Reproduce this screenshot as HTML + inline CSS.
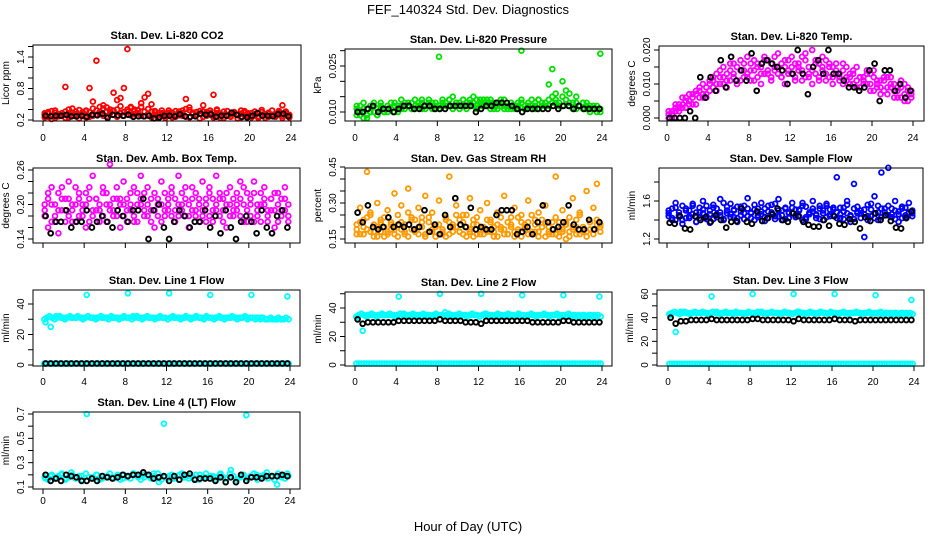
<!DOCTYPE html>
<html><head><meta charset="utf-8"><style>
html,body{margin:0;padding:0;background:#fff;}
svg{display:block;font-family:"Liberation Sans",sans-serif;}
</style></head><body>
<svg id="chart" width="936" height="540" viewBox="0 0 936 540">
<text x="468" y="14" text-anchor="middle" font-size="13">FEF_140324  Std. Dev. Diagnostics</text>
<text x="468" y="531" text-anchor="middle" font-size="13">Hour of Day (UTC)</text>
</svg>
<script>
// ---------- data ----------
const co2Color = [0.30,0.32,0.28,0.34,0.30,0.29,0.83,0.33,0.42,0.31,0.30,0.35,0.38,0.81,0.55,1.33,0.45,0.48,0.36,0.40,0.72,0.58,0.62,0.81,1.55,0.45,0.40,0.38,0.52,0.63,0.70,0.50,0.35,0.33,0.30,0.32,0.31,0.34,0.30,0.36,0.38,0.60,0.44,0.33,0.30,0.32,0.48,0.35,0.30,0.68,0.38,0.32,0.30,0.29,0.31,0.33,0.30,0.32,0.34,0.30,0.28,0.31,0.33,0.30,0.29,0.32,0.30,0.31,0.35,0.48,0.33,0.28];
const co2Color2 = [0.25,0.35,0.22,0.38,0.27,0.33,0.24,0.40,0.29,0.36,0.23,0.31,0.37,0.26,0.42,0.30,0.35,0.28,0.44,0.33,0.38,0.26,0.46,0.35,0.40,0.29,0.37,0.33,0.45,0.27,0.41,0.36,0.30,0.24,0.38,0.28,0.34,0.25,0.37,0.29,0.33,0.26,0.39,0.31,0.35,0.23,0.36,0.28,0.34,0.25,0.40,0.30,0.24,0.37,0.27,0.35,0.23,0.38,0.29,0.33,0.25,0.36,0.27,0.39,0.24,0.34,0.30,0.26,0.37,0.28,0.32,0.25];
const co2Color3 = [0.33,0.26,0.37,0.24,0.31,0.28,0.36,0.25,0.34,0.27,0.39,0.30,0.25,0.35,0.28,0.38,0.31,0.42,0.27,0.36,0.30,0.40,0.33,0.28,0.36,0.43,0.31,0.39,0.28,0.36,0.32,0.25,0.37,0.29,0.33,0.24,0.38,0.30,0.26,0.35,0.28,0.41,0.25,0.34,0.29,0.37,0.26,0.32,0.38,0.28,0.33,0.24,0.36,0.30,0.26,0.34,0.29,0.25,0.37,0.27,0.33,0.29,0.24,0.35,0.31,0.26,0.38,0.28,0.33,0.24,0.36,0.30];
const co2Black = [0.28,0.27,0.28,0.28,0.30,0.27,0.27,0.28,0.26,0.30,0.29,0.32,0.24,0.30,0.29,0.28,0.30,0.26,0.27,0.27,0.28,0.23,0.25,0.28,0.28,0.27,0.31,0.27,0.26,0.27,0.32,0.30,0.31,0.26,0.28,0.28,0.34,0.30,0.26,0.25,0.28,0.33,0.28,0.28,0.27,0.31,0.32,0.27];
const presColor = [0.011,0.009,0.013,0.008,0.010,0.012,0.009,0.011,0.010,0.012,0.011,0.010,0.012,0.011,0.013,0.012,0.011,0.012,0.013,0.011,0.012,0.013,0.012,0.011,0.028,0.012,0.013,0.014,0.012,0.013,0.012,0.014,0.013,0.012,0.013,0.014,0.013,0.012,0.014,0.013,0.012,0.011,0.013,0.012,0.012,0.011,0.012,0.013,0.030,0.011,0.013,0.012,0.011,0.014,0.012,0.013,0.019,0.024,0.014,0.012,0.020,0.017,0.016,0.013,0.015,0.012,0.013,0.011,0.012,0.011,0.012,0.029];
const presColor2 = [0.009,0.012,0.008,0.011,0.010,0.013,0.009,0.012,0.011,0.010,0.013,0.012,0.011,0.014,0.012,0.013,0.011,0.014,0.012,0.013,0.012,0.014,0.011,0.013,0.012,0.014,0.013,0.012,0.015,0.013,0.011,0.014,0.012,0.013,0.015,0.012,0.014,0.013,0.012,0.014,0.011,0.013,0.012,0.014,0.011,0.013,0.012,0.011,0.014,0.012,0.013,0.011,0.012,0.014,0.013,0.012,0.014,0.015,0.013,0.012,0.015,0.014,0.013,0.011,0.013,0.012,0.011,0.013,0.010,0.012,0.011,0.010];
const presColor3 = [0.012,0.010,0.011,0.009,0.012,0.010,0.011,0.013,0.010,0.012,0.011,0.013,0.010,0.012,0.011,0.012,0.013,0.011,0.012,0.014,0.011,0.012,0.013,0.012,0.011,0.013,0.012,0.014,0.011,0.012,0.013,0.012,0.011,0.014,0.012,0.011,0.012,0.014,0.013,0.011,0.013,0.012,0.014,0.011,0.012,0.013,0.011,0.012,0.013,0.011,0.012,0.014,0.013,0.011,0.012,0.013,0.012,0.013,0.016,0.013,0.012,0.014,0.012,0.013,0.011,0.012,0.013,0.012,0.011,0.012,0.010,0.011];
const presBlack = [0.010,0.010,0.011,0.012,0.010,0.011,0.011,0.010,0.011,0.012,0.012,0.011,0.011,0.012,0.012,0.011,0.011,0.011,0.012,0.012,0.012,0.012,0.012,0.010,0.011,0.012,0.012,0.013,0.013,0.013,0.012,0.011,0.010,0.011,0.011,0.011,0.011,0.011,0.012,0.011,0.012,0.012,0.011,0.012,0.011,0.011,0.011,0.011];
const tempColor = [0.001,0.002,0.003,0.003,0.004,0.005,0.004,0.006,0.007,0.008,0.006,0.009,0.010,0.011,0.008,0.012,0.010,0.013,0.014,0.012,0.015,0.011,0.016,0.013,0.014,0.017,0.012,0.015,0.018,0.013,0.016,0.014,0.019,0.012,0.015,0.017,0.013,0.016,0.014,0.018,0.012,0.015,0.020,0.013,0.016,0.014,0.017,0.012,0.015,0.013,0.011,0.014,0.012,0.010,0.013,0.011,0.009,0.012,0.010,0.013,0.008,0.011,0.009,0.012,0.007,0.010,0.008,0.006,0.009,0.007,0.005,0.008];
const tempColor2 = [0.000,0.001,0.002,0.004,0.003,0.006,0.005,0.007,0.004,0.009,0.007,0.006,0.011,0.009,0.013,0.010,0.015,0.009,0.011,0.016,0.010,0.014,0.012,0.018,0.011,0.014,0.016,0.010,0.013,0.017,0.011,0.015,0.013,0.016,0.010,0.014,0.018,0.012,0.015,0.011,0.017,0.013,0.010,0.016,0.012,0.018,0.011,0.015,0.012,0.016,0.013,0.010,0.015,0.012,0.014,0.009,0.012,0.010,0.014,0.008,0.012,0.010,0.007,0.011,0.009,0.012,0.006,0.009,0.011,0.005,0.008,0.006];
const tempColor3 = [0.002,0.000,0.004,0.002,0.006,0.003,0.007,0.004,0.008,0.006,0.010,0.007,0.008,0.012,0.010,0.014,0.012,0.011,0.016,0.013,0.011,0.017,0.014,0.012,0.016,0.011,0.015,0.013,0.017,0.014,0.012,0.018,0.015,0.012,0.017,0.013,0.015,0.011,0.016,0.014,0.019,0.012,0.014,0.017,0.011,0.015,0.013,0.016,0.010,0.014,0.012,0.016,0.011,0.013,0.010,0.015,0.012,0.011,0.013,0.010,0.014,0.009,0.011,0.008,0.012,0.009,0.010,0.008,0.006,0.010,0.009,0.007];
const tempBlack = [0.000,0.000,0.000,0.000,0.002,0.000,0.012,0.006,0.012,0.008,0.017,0.009,0.018,0.011,0.014,0.011,0.019,0.008,0.016,0.017,0.016,0.015,0.014,0.010,0.013,0.020,0.013,0.007,0.015,0.017,0.013,0.020,0.013,0.013,0.011,0.009,0.009,0.008,0.009,0.014,0.016,0.005,0.014,0.014,0.008,0.010,0.006,0.008];
const ambColor = [0.20,0.16,0.23,0.18,0.15,0.21,0.19,0.24,0.17,0.20,0.22,0.18,0.16,0.21,0.25,0.19,0.17,0.23,0.20,0.27,0.18,0.21,0.16,0.24,0.19,0.22,0.17,0.20,0.25,0.18,0.23,0.19,0.16,0.21,0.24,0.18,0.20,0.22,0.17,0.25,0.19,0.21,0.16,0.23,0.18,0.20,0.24,0.17,0.22,0.19,0.25,0.18,0.21,0.16,0.23,0.19,0.20,0.24,0.17,0.22,0.18,0.24,0.20,0.17,0.23,0.19,0.21,0.16,0.22,0.18,0.23,0.17];
const ambColor2 = [0.18,0.21,0.17,0.20,0.22,0.19,0.17,0.21,0.19,0.23,0.18,0.20,0.22,0.17,0.19,0.21,0.20,0.18,0.22,0.19,0.21,0.23,0.20,0.18,0.21,0.19,0.23,0.17,0.20,0.22,0.18,0.21,0.19,0.20,0.17,0.22,0.19,0.18,0.21,0.20,0.22,0.18,0.20,0.19,0.22,0.17,0.19,0.21,0.18,0.21,0.20,0.22,0.19,0.20,0.18,0.21,0.22,0.18,0.20,0.19,0.21,0.17,0.19,0.22,0.20,0.18,0.21,0.19,0.17,0.21,0.19,0.20];
const ambColor3 = [0.19,0.22,0.20,0.17,0.19,0.23,0.21,0.18,0.20,0.17,0.21,0.19,0.20,0.23,0.18,0.21,0.19,0.22,0.17,0.20,0.19,0.18,0.21,0.20,0.17,0.20,0.18,0.22,0.21,0.19,0.20,0.17,0.22,0.18,0.20,0.19,0.21,0.23,0.19,0.18,0.20,0.23,0.18,0.21,0.19,0.21,0.18,0.20,0.23,0.17,0.19,0.21,0.17,0.22,0.20,0.18,0.19,0.21,0.23,0.17,0.20,0.22,0.18,0.20,0.21,0.17,0.19,0.22,0.20,0.19,0.21,0.18];
const ambBlack = [0.18,0.15,0.17,0.17,0.19,0.16,0.17,0.17,0.19,0.16,0.17,0.18,0.17,0.16,0.19,0.18,0.17,0.19,0.19,0.21,0.14,0.19,0.20,0.16,0.14,0.17,0.19,0.18,0.16,0.17,0.17,0.19,0.16,0.18,0.15,0.19,0.16,0.14,0.17,0.18,0.17,0.15,0.19,0.16,0.15,0.18,0.19,0.16];
const rhColor = [0.17,0.28,0.20,0.43,0.25,0.18,0.30,0.22,0.16,0.27,0.19,0.34,0.21,0.29,0.17,0.36,0.24,0.19,0.28,0.22,0.33,0.18,0.26,0.20,0.31,0.17,0.24,0.41,0.21,0.29,0.18,0.25,0.20,0.32,0.23,0.17,0.27,0.19,0.30,0.22,0.18,0.26,0.20,0.33,0.17,0.24,0.28,0.19,0.25,0.21,0.31,0.18,0.23,0.26,0.20,0.29,0.17,0.22,0.41,0.19,0.27,0.15,0.24,0.32,0.20,0.26,0.18,0.35,0.22,0.28,0.38,0.21];
const rhColor2 = [0.19,0.22,0.17,0.24,0.18,0.21,0.16,0.23,0.20,0.18,0.22,0.17,0.25,0.19,0.21,0.16,0.23,0.18,0.20,0.24,0.17,0.22,0.19,0.16,0.21,0.18,0.23,0.17,0.20,0.25,0.18,0.22,0.16,0.19,0.21,0.24,0.17,0.20,0.18,0.23,0.16,0.21,0.19,0.17,0.22,0.20,0.18,0.24,0.16,0.19,0.22,0.17,0.21,0.18,0.23,0.16,0.20,0.19,0.17,0.22,0.18,0.21,0.16,0.19,0.23,0.17,0.20,0.18,0.22,0.19,0.21,0.18];
const rhColor3 = [0.21,0.17,0.23,0.19,0.26,0.16,0.20,0.18,0.24,0.17,0.21,0.19,0.16,0.22,0.18,0.26,0.19,0.23,0.17,0.20,0.16,0.24,0.18,0.21,0.17,0.19,0.16,0.22,0.18,0.20,0.23,0.17,0.25,0.18,0.16,0.21,0.19,0.17,0.23,0.18,0.20,0.16,0.24,0.19,0.17,0.21,0.16,0.18,0.22,0.20,0.17,0.25,0.18,0.16,0.20,0.22,0.18,0.17,0.24,0.16,0.19,0.22,0.18,0.20,0.17,0.25,0.18,0.16,0.19,0.17,0.23,0.20];
const rhBlack = [0.26,0.22,0.29,0.20,0.19,0.20,0.24,0.20,0.21,0.20,0.21,0.19,0.20,0.27,0.18,0.21,0.17,0.25,0.20,0.32,0.21,0.20,0.28,0.19,0.20,0.19,0.19,0.25,0.27,0.27,0.27,0.17,0.18,0.20,0.17,0.22,0.29,0.22,0.19,0.20,0.22,0.29,0.21,0.19,0.19,0.23,0.19,0.22];
const sampColor = [1.50,1.40,1.58,1.45,1.36,1.52,1.42,1.55,1.38,1.48,1.60,1.44,1.37,1.53,1.46,1.62,1.41,1.50,1.57,1.43,1.38,1.54,1.47,1.63,1.42,1.51,1.45,1.58,1.39,1.49,1.56,1.44,1.62,1.40,1.52,1.47,1.58,1.43,1.50,1.55,1.41,1.48,1.60,1.45,1.52,1.40,1.57,1.46,1.51,1.85,1.42,1.53,1.60,1.38,1.78,1.47,1.50,1.22,1.56,1.44,1.65,1.40,1.90,1.52,1.95,1.46,1.60,1.38,1.52,1.45,1.58,1.47];
const sampColor2 = [1.44,1.52,1.40,1.48,1.55,1.42,1.50,1.46,1.38,1.53,1.47,1.41,1.50,1.56,1.43,1.48,1.40,1.54,1.46,1.51,1.42,1.49,1.55,1.44,1.48,1.40,1.52,1.46,1.43,1.55,1.48,1.41,1.50,1.45,1.53,1.42,1.47,1.51,1.44,1.40,1.54,1.46,1.49,1.42,1.55,1.47,1.43,1.51,1.45,1.48,1.53,1.41,1.47,1.44,1.52,1.49,1.42,1.46,1.40,1.51,1.47,1.55,1.43,1.48,1.45,1.52,1.41,1.49,1.54,1.43,1.47,1.50];
const sampColor3 = [1.47,1.42,1.53,1.45,1.40,1.50,1.44,1.57,1.48,1.42,1.51,1.55,1.46,1.41,1.52,1.45,1.58,1.47,1.43,1.50,1.54,1.45,1.41,1.52,1.47,1.56,1.43,1.49,1.52,1.42,1.46,1.57,1.44,1.50,1.41,1.48,1.53,1.45,1.51,1.58,1.43,1.47,1.52,1.46,1.41,1.50,1.55,1.44,1.53,1.42,1.46,1.49,1.56,1.45,1.41,1.54,1.47,1.51,1.44,1.57,1.42,1.48,1.52,1.45,1.55,1.43,1.50,1.46,1.42,1.53,1.48,1.44];
const sampBlack = [1.37,1.36,1.44,1.31,1.30,1.44,1.40,1.43,1.38,1.45,1.40,1.32,1.38,1.39,1.52,1.38,1.36,1.49,1.39,1.42,1.46,1.52,1.40,1.38,1.47,1.44,1.38,1.35,1.33,1.33,1.40,1.34,1.44,1.36,1.35,1.41,1.38,1.31,1.43,1.39,1.47,1.40,1.45,1.39,1.32,1.31,1.42,1.49];
const line1Color = [28,25,32,31,31,31,31,31,46,31,31,31,31,31,31,31,47,32,31,31,31,31,31,31,47,31,31,31,31,31,31,31,46,31,31,31,31,31,31,31,46,31,31,30,30,30,30,45];
const line1Band = [30,31,32,31,30,31,32,31,30,31,32,31, 31,32,31,30,31,32,31,31,30,31,32,31, 31,30,32,31,31,30,31,32,31,31,30,31, 32,31,30,31,32,31,31,30,31,32,31,31, 30,31,32,31,31,30,31,32,31,30,31,32, 31,31,30,32,31,31,30,31,32,31,30,31, 31,32,31,30,31,31,32,30,31,31,30,31, 30,31,30,30,31,30,30,31,30,30,31,30];
const line1Zero = [1,1,1,1,1,1,1,1,1,1,1,1, 1,1,1,1,1,1,1,1,1,1,1,1, 1,1,1,1,1,1,1,1,1,1,1,1, 1,1,1,1,1,1,1,1,1,1,1,1, 1,1,1,1,1,1,1,1,1,1,1,1, 1,1,1,1,1,1,1,1,1,1,1,1, 1,1,1,1,1,1,1,1,1,1,1,1, 1,1,1,1,1,1,1,1,1,1,1,1];
const line1Black = [1,1,1,1,1,1,1,1,1,1,1,1,1,1,1,1,1,1,1,1,1,1,1,1,1,1,1,1,1,1,1,1,1,1,1,1,1,1,1,1,1,1,1,1,1,1,1,1];
const line2Color = [33,24,35,35,35,35,35,35,48,36,35,35,35,35,35,35,50,37,35,35,35,35,35,35,50,36,35,35,35,35,35,35,49,35,35,35,35,35,35,35,49,36,35,35,35,35,35,48];
const line2Band = [34,35,36,35,34,35,36,35,34,35,36,35, 35,36,35,34,35,36,35,35,34,35,36,35, 35,34,36,35,35,34,35,36,35,35,34,35, 36,35,34,35,36,35,35,34,35,36,35,35, 34,35,36,35,35,34,35,36,35,34,35,36, 35,35,34,36,35,35,34,35,36,35,34,35, 35,36,35,34,35,35,36,34,35,35,34,35, 34,35,34,34,35,34,34,35,34,34,35,34];
const line2Zero = [1,1,1,1,1,1,1,1,1,1,1,1, 1,1,1,1,1,1,1,1,1,1,1,1, 1,1,1,1,1,1,1,1,1,1,1,1, 1,1,1,1,1,1,1,1,1,1,1,1, 1,1,1,1,1,1,1,1,1,1,1,1, 1,1,1,1,1,1,1,1,1,1,1,1, 1,1,1,1,1,1,1,1,1,1,1,1, 1,1,1,1,1,1,1,1,1,1,1,1];
const line2Black = [32,29,30,30,30,30,30,30,31,31,31,31,31,31,31,31,32,31,31,31,31,30,30,30,29,31,31,31,31,31,31,31,31,31,30,30,30,30,30,30,31,31,30,30,30,30,30,30];
const line3Color = [42,28,45,44,44,44,44,44,58,45,44,44,44,44,44,44,60,45,44,44,44,44,44,44,60,45,44,44,44,44,44,44,60,44,44,44,44,44,44,44,59,45,44,44,44,44,44,55];
const line3Band = [43,44,45,44,43,44,45,44,43,44,45,44, 44,45,44,43,44,45,44,44,43,44,45,44, 44,43,45,44,44,43,44,45,44,44,43,44, 45,44,43,44,45,44,44,43,44,45,44,44, 43,44,45,44,44,43,44,45,44,43,44,45, 44,44,43,45,44,44,43,44,45,44,43,44, 44,45,44,43,44,44,45,43,44,44,43,44, 43,44,43,43,44,43,43,44,43,43,44,43];
const line3Zero = [1,1,1,1,1,1,1,1,1,1,1,1, 1,1,1,1,1,1,1,1,1,1,1,1, 1,1,1,1,1,1,1,1,1,1,1,1, 1,1,1,1,1,1,1,1,1,1,1,1, 1,1,1,1,1,1,1,1,1,1,1,1, 1,1,1,1,1,1,1,1,1,1,1,1, 1,1,1,1,1,1,1,1,1,1,1,1, 1,1,1,1,1,1,1,1,1,1,1,1];
const line3Black = [40,35,37,37,38,38,38,38,39,38,38,38,38,38,38,38,39,39,38,38,38,38,38,38,37,39,38,38,38,38,38,38,39,38,38,38,37,38,38,38,38,38,38,38,38,38,38,38];
const line4Color = [0.17,0.19,0.18,0.20,0.17,0.22,0.18,0.19,0.70,0.18,0.20,0.17,0.19,0.18,0.20,0.17,0.19,0.21,0.18,0.20,0.19,0.21,0.14,0.62,0.19,0.17,0.20,0.18,0.19,0.17,0.20,0.18,0.19,0.18,0.21,0.17,0.24,0.14,0.19,0.69,0.18,0.20,0.19,0.22,0.18,0.12,0.19,0.21];
const line4Color2 = [0.18,0.16,0.20,0.17,0.19,0.21,0.16,0.18,0.20,0.17,0.19,0.16,0.21,0.18,0.17,0.20,0.16,0.19,0.18,0.21,0.17,0.19,0.16,0.20,0.18,0.17,0.21,0.19,0.16,0.18,0.20,0.17,0.19,0.21,0.16,0.18,0.17,0.20,0.19,0.16,0.21,0.18,0.17,0.19,0.20,0.16,0.18,0.21,0.17,0.19,0.16,0.20,0.18,0.17,0.21,0.19,0.16,0.18,0.20,0.17,0.19,0.21,0.16,0.18,0.20,0.17,0.19,0.16,0.21,0.18,0.17,0.19];
const line4Black = [0.20,0.15,0.17,0.15,0.20,0.19,0.18,0.15,0.15,0.17,0.15,0.19,0.18,0.17,0.18,0.20,0.19,0.20,0.20,0.22,0.20,0.17,0.18,0.19,0.15,0.19,0.16,0.20,0.21,0.16,0.17,0.17,0.17,0.15,0.18,0.14,0.18,0.14,0.20,0.15,0.18,0.18,0.17,0.19,0.19,0.19,0.20,0.19];
const xTicks = [0,4,8,12,16,20,24];

// ---------- layout ----------
const panels = [
 {name:'co2',title:'Stan. Dev. Li-820 CO2',yt:'Licor ppm',box:[33,301,45,121],x0:43,x24:291,yv:[0.2,1.4],yp:[120,57],ticks:[0.2,0.4,0.6,0.8,1.0,1.2,1.4,1.6],labels:['0.2','0.8','1.4'],dec:1,xl:137,series:[[co2Color2,'#ff0000'],[co2Color3,'#ff0000'],[co2Color,'#ff0000'],[co2Black,'#000']]},
 {name:'pressure',title:'Stan. Dev. Li-820 Pressure',yt:'kPa',box:[345,612,49,121],x0:355,x24:602,yv:[0.010,0.025],yp:[112,66],ticks:[0.010,0.015,0.020,0.025,0.030],labels:['0.010','0.025'],dec:3,xl:137,series:[[presColor2,'#00e000'],[presColor3,'#00e000'],[presColor,'#00e000'],[presBlack,'#000']]},
 {name:'temp',title:'Stan. Dev. Li-820 Temp.',yt:'degrees C',box:[659,924,46,121],x0:667,x24:913,yv:[0,0.02],yp:[118,50],ticks:[0,0.005,0.010,0.015,0.020],labels:['0.000','0.010','0.020'],dec:3,xl:137,series:[[tempColor2,'#ff00ff'],[tempColor3,'#ff00ff'],[tempColor,'#ff00ff'],[tempBlack,'#000']]},
 {name:'amb-box',title:'Stan. Dev. Amb. Box Temp.',yt:'degrees C',box:[33,300,168,243],x0:43,x24:290,yv:[0.14,0.26],yp:[239,170],ticks:[0.14,0.16,0.18,0.20,0.22,0.24,0.26],labels:['0.14','0.20','0.26'],dec:2,xl:null,series:[[ambColor2,'#ff00ff'],[ambColor3,'#ff00ff'],[ambColor,'#ff00ff'],[ambBlack,'#000']]},
 {name:'rh',title:'Stan. Dev. Gas Stream RH',yt:'percent',box:[345,612,168,243],x0:355,x24:602,yv:[0.15,0.30],yp:[239,203],ticks:[0.15,0.20,0.25,0.30,0.35,0.40,0.45],labels:['0.15','0.30','0.45'],dec:2,xl:null,series:[[rhColor2,'#ff9a00'],[rhColor3,'#ff9a00'],[rhColor,'#ff9a00'],[rhBlack,'#000']]},
 {name:'sample-flow',title:'Stan. Dev. Sample Flow',yt:'ml/min',box:[659,923,168,243],x0:667,x24:914,yv:[1.2,1.6],yp:[239,201],ticks:[1.2,1.4,1.6,1.8],labels:['1.2','1.6'],dec:1,xl:null,series:[[sampColor2,'#0000ff'],[sampColor3,'#0000ff'],[sampColor,'#0000ff'],[sampBlack,'#000']]},
 {name:'line1',title:'Stan. Dev. Line 1 Flow',yt:'ml/min',box:[33,300,290,366],x0:43,x24:290,yv:[0,40],yp:[365,304],ticks:[0,10,20,30,40],labels:['0','20','40'],dec:0,xl:381,series:[[line1Band,'#00ffff'],[line1Color,'#00ffff'],[line1Zero,'#00ffff'],[line1Black,'#000']]},
 {name:'line2',title:'Stan. Dev. Line 2 Flow',yt:'ml/min',box:[345,612,292,366],x0:355,x24:602,yv:[0,40],yp:[365,308],ticks:[0,10,20,30,40,50],labels:['0','20','40'],dec:0,xl:381,series:[[line2Band,'#00ffff'],[line2Color,'#00ffff'],[line2Zero,'#00ffff'],[line2Black,'#000']]},
 {name:'line3',title:'Stan. Dev. Line 3 Flow',yt:'ml/min',box:[657,924,290,366],x0:668,x24:914,yv:[0,60],yp:[365,294],ticks:[0,10,20,30,40,50,60],labels:['0','20','40','60'],dec:0,xl:381,series:[[line3Band,'#00ffff'],[line3Color,'#00ffff'],[line3Zero,'#00ffff'],[line3Black,'#000']]},
 {name:'line4',title:'Stan. Dev. Line 4 (LT) Flow',yt:'ml/min',box:[33,300,412,489],x0:43,x24:290,yv:[0.1,0.7],yp:[487,414],ticks:[0.1,0.2,0.3,0.4,0.5,0.6,0.7],labels:['0.1','0.3','0.5','0.7'],dec:1,xl:500,series:[[line4Color2,'#00ffff'],[line4Color,'#00ffff'],[line4Black,'#000']]}
];

const NS='http://www.w3.org/2000/svg';
const svg=document.getElementById('chart');
function mk(tag,attrs,parent){const e=document.createElementNS(NS,tag);for(const k in attrs)e.setAttribute(k,attrs[k]);parent.appendChild(e);return e;}

panels.forEach(p=>{
  const g=mk('g',{},svg);
  
  
  const [l,r,t,b]=p.box;
  const xs=h=>p.x0+(p.x24-p.x0)*h/24;
  const ys=v=>p.yp[0]+(v-p.yv[0])*(p.yp[1]-p.yp[0])/(p.yv[1]-p.yv[0]);
  const cx=(l+r)/2;
  const tt=mk('text',{x:cx,y:t-6,'text-anchor':'middle','font-size':11,'font-weight':'bold'},g);
  tt.textContent=p.title;
  
  
  const yt=mk('text',{x:0,y:0,'text-anchor':'middle','font-size':10,transform:`translate(${l-24},${(t+b)/2}) rotate(-90)`},g);
  yt.textContent=p.yt;
  
  
  p.series.forEach(([arr,col],si)=>{
    const sg=mk('g',{fill:'none',stroke:col,'stroke-width':col==='#000'?1.9:1.8},g);
    
    
    arr.forEach((v,i)=>{
      const h=(i+0.5)*24/arr.length;
      const c=mk('circle',{cx:xs(h).toFixed(1),cy:ys(v).toFixed(1),r:2.4},sg);
      
      
    });
  });
  const box=mk('rect',{x:l,y:t,width:r-l,height:b-t,fill:'none',stroke:'#000','stroke-width':1},g);
  
  
  xTicks.forEach(h=>{
    mk('line',{x1:xs(h),x2:xs(h),y1:b,y2:b+5,stroke:'#000'},g);
    if(p.xl){const tx=mk('text',{x:xs(h),y:p.xl+4,'text-anchor':'middle','font-size':10},g);
      tx.textContent=h;
      
      }
  });
  p.ticks.forEach(v=>{
    mk('line',{x1:l-5,x2:l,y1:ys(v),y2:ys(v),stroke:'#000'},g);
    const s=v.toFixed(p.dec);
    if(p.labels.includes(s)){
      const ty=mk('text',{x:0,y:0,'text-anchor':'middle','font-size':10,transform:`translate(${l-9},${ys(v)}) rotate(-90)`},g);
      ty.textContent=s;
      
      
    }
  });
});
</script>
</body></html>
